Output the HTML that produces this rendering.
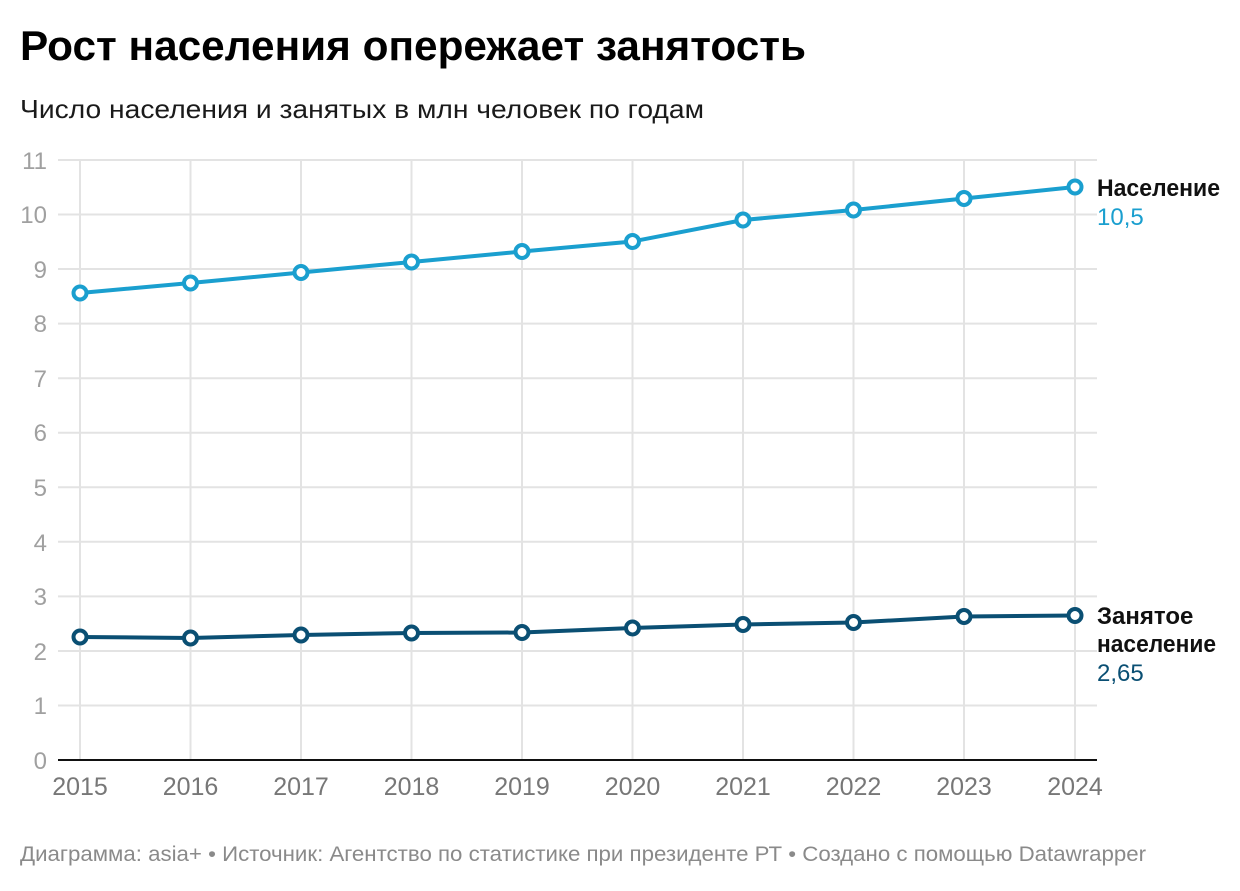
<!DOCTYPE html>
<html><head><meta charset="utf-8"><style>
body{margin:0;background:#fff;width:1240px;height:886px;overflow:hidden;font-family:"Liberation Sans",Arial,sans-serif}
</style></head><body>
<svg width="1240" height="886" xmlns="http://www.w3.org/2000/svg" font-family="Liberation Sans, Arial, sans-serif">
<text x="20" y="60" font-size="42" font-weight="bold" fill="#000" textLength="786" lengthAdjust="spacingAndGlyphs">Рост населения опережает занятость</text>
<text x="20" y="118" font-size="26" fill="#1a1a1a" textLength="684" lengthAdjust="spacingAndGlyphs">Число населения и занятых в млн человек по годам</text>
<g stroke="#e3e3e3" stroke-width="2">
<line x1="58" x2="1097" y1="160" y2="160"/><line x1="58" x2="1097" y1="214.5" y2="214.5"/><line x1="58" x2="1097" y1="269" y2="269"/><line x1="58" x2="1097" y1="323.6" y2="323.6"/><line x1="58" x2="1097" y1="378.2" y2="378.2"/><line x1="58" x2="1097" y1="432.7" y2="432.7"/><line x1="58" x2="1097" y1="487.3" y2="487.3"/><line x1="58" x2="1097" y1="541.8" y2="541.8"/><line x1="58" x2="1097" y1="596.4" y2="596.4"/><line x1="58" x2="1097" y1="651" y2="651"/><line x1="58" x2="1097" y1="705.5" y2="705.5"/>
<line x1="80" x2="80" y1="160" y2="760"/><line x1="190.5" x2="190.5" y1="160" y2="760"/><line x1="301" x2="301" y1="160" y2="760"/><line x1="411.5" x2="411.5" y1="160" y2="760"/><line x1="522" x2="522" y1="160" y2="760"/><line x1="632.5" x2="632.5" y1="160" y2="760"/><line x1="743" x2="743" y1="160" y2="760"/><line x1="853.5" x2="853.5" y1="160" y2="760"/><line x1="964" x2="964" y1="160" y2="760"/><line x1="1075" x2="1075" y1="160" y2="760"/>
</g>
<line x1="58" x2="1097" y1="760" y2="760" stroke="#111" stroke-width="2"/>
<g font-size="24" fill="#a0a0a0" text-anchor="end">
<text x="47" y="169">11</text><text x="47" y="223">10</text><text x="47" y="278">9</text><text x="47" y="332">8</text><text x="47" y="387">7</text><text x="47" y="441">6</text><text x="47" y="496">5</text><text x="47" y="551">4</text><text x="47" y="605">3</text><text x="47" y="660">2</text><text x="47" y="714">1</text><text x="47" y="769">0</text>
</g>
<g font-size="25" fill="#777" text-anchor="middle">
<text x="80" y="795">2015</text><text x="190.5" y="795">2016</text><text x="301" y="795">2017</text><text x="411.5" y="795">2018</text><text x="522" y="795">2019</text><text x="632.5" y="795">2020</text><text x="743" y="795">2021</text><text x="853.5" y="795">2022</text><text x="964" y="795">2023</text><text x="1075" y="795">2024</text>
</g>
<polyline fill="none" stroke="#1a9fcf" stroke-width="4" points="80,293 190.5,283 301,272.5 411.5,262 522,251.5 632.5,241.5 743,220 853.5,210 964,198.5 1075,187"/>
<g fill="#fff" stroke="#1a9fcf" stroke-width="4">
<circle cx="80" cy="293" r="6.5"/><circle cx="190.5" cy="283" r="6.5"/><circle cx="301" cy="272.5" r="6.5"/><circle cx="411.5" cy="262" r="6.5"/><circle cx="522" cy="251.5" r="6.5"/><circle cx="632.5" cy="241.5" r="6.5"/><circle cx="743" cy="220" r="6.5"/><circle cx="853.5" cy="210" r="6.5"/><circle cx="964" cy="198.5" r="6.5"/><circle cx="1075" cy="187" r="6.5"/>
</g>
<polyline fill="none" stroke="#0a4f73" stroke-width="4" points="80,637 190.5,638 301,635 411.5,633 522,632.5 632.5,628 743,624.5 853.5,622.5 964,616.5 1075,615.5"/>
<g fill="#fff" stroke="#0a4f73" stroke-width="4">
<circle cx="80" cy="637" r="6.5"/><circle cx="190.5" cy="638" r="6.5"/><circle cx="301" cy="635" r="6.5"/><circle cx="411.5" cy="633" r="6.5"/><circle cx="522" cy="632.5" r="6.5"/><circle cx="632.5" cy="628" r="6.5"/><circle cx="743" cy="624.5" r="6.5"/><circle cx="853.5" cy="622.5" r="6.5"/><circle cx="964" cy="616.5" r="6.5"/><circle cx="1075" cy="615.5" r="6.5"/>
</g>
<text x="1097" y="196" font-size="24" font-weight="bold" fill="#111" textLength="123" lengthAdjust="spacingAndGlyphs">Население</text>
<text x="1097" y="225" font-size="24" fill="#1a9fcf">10,5</text>
<text x="1097" y="624" font-size="24" font-weight="bold" fill="#111">Занятое</text>
<text x="1097" y="652" font-size="24" font-weight="bold" fill="#111" textLength="119" lengthAdjust="spacingAndGlyphs">население</text>
<text x="1097" y="681" font-size="24" fill="#0a4f73">2,65</text>
<text x="20" y="861" font-size="21" fill="#8a8a8a" textLength="1126" lengthAdjust="spacingAndGlyphs">Диаграмма: asia+ • Источник: Агентство по статистике при президенте РТ • Создано с помощью Datawrapper</text>
</svg>
</body></html>
